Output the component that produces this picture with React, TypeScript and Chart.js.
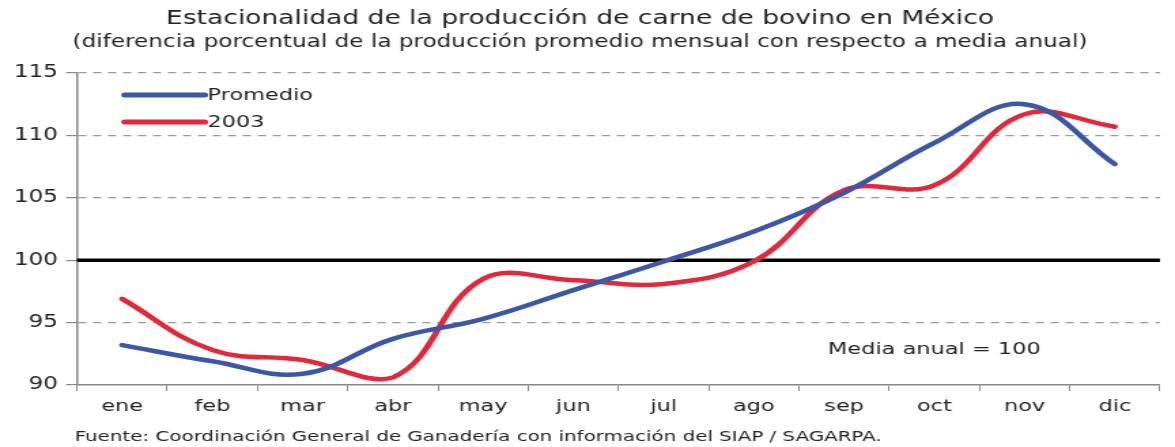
import React, { useEffect, useRef } from 'react';
import { Chart, registerables } from 'chart.js';

Chart.register(...registerables);

const months = ['ene', 'feb', 'mar', 'abr', 'may', 'jun', 'jul', 'ago', 'sep', 'oct', 'nov', 'dic'];
const promedio = [93.2, 91.9, 90.9, 93.7, 95.3, 97.6, 99.9, 102.3, 105.4, 109.4, 112.5, 107.7];
const serie2003 = [96.9, 92.8, 92.0, 90.6, 98.5, 98.4, 98.1, 99.9, 105.6, 106.0, 111.7, 110.7];
const seriesLabels = ['Promedio', '2003'];
const yTicks = [90, 95, 100, 105, 110, 115];
const titleText = 'Estacionalidad de la producción de carne de bovino en México';
const subtitleText = '(diferencia porcentual de la producción promedio mensual con respecto a media anual)';
const sourceText = 'Fuente: Coordinación General de Ganadería con información del SIAP / SAGARPA.';
const noteText = 'Media anual = 100';
const noteCategory = 'oct';
const noteValue = 92.8;
const baseValue = 100;

const PAGE_W = 1175;
const PAGE_H = 447;
const STRETCH = 1.36;
const W = Math.round(PAGE_W / STRETCH);
const FONT = '"DejaVu Sans", Verdana, sans-serif';
const TEXT = '#222';

const extrasPlugin = {
  id: 'extras',
  beforeDatasetsDraw(chart: any) {
    const { ctx, chartArea } = chart;
    const y = chart.scales.y.getPixelForValue(baseValue);
    ctx.save();
    ctx.strokeStyle = '#000';
    ctx.lineWidth = 3.5;
    ctx.beginPath();
    ctx.moveTo(chartArea.left, y);
    ctx.lineTo(chartArea.right, y);
    ctx.stroke();
    ctx.restore();
  },
  afterDatasetsDraw(chart: any) {
    const { ctx, chartArea } = chart;
    ctx.save();
    // legend inside plot
    chart.data.datasets.forEach((ds: any, i: number) => {
      const ly = chartArea.top + 22 + i * 27;
      const x0 = chartArea.left + 35;
      const x1 = chartArea.left + 94;
      ctx.strokeStyle = ds.borderColor;
      ctx.lineWidth = 5;
      ctx.lineCap = 'round';
      ctx.beginPath();
      ctx.moveTo(x0, ly);
      ctx.lineTo(x1, ly);
      ctx.stroke();
      ctx.fillStyle = TEXT;
      ctx.font = `16.5px ${FONT}`;
      ctx.textAlign = 'left';
      ctx.textBaseline = 'middle';
      ctx.fillText(ds.label, x1 + 2, ly + 1);
    });
    // note
    const nx = chart.scales.x.getPixelForValue(months.indexOf(noteCategory));
    const ny = chart.scales.y.getPixelForValue(noteValue);
    ctx.fillStyle = TEXT;
    ctx.font = `16.5px ${FONT}`;
    ctx.textAlign = 'center';
    ctx.textBaseline = 'middle';
    ctx.fillText(noteText, nx, ny);
    // source
    ctx.font = `14.6px ${FONT}`;
    ctx.textAlign = 'left';
    ctx.fillText(sourceText, 55, 437);
    ctx.restore();
  },
};

export default function App() {
  const ref = useRef<HTMLCanvasElement | null>(null);

  useEffect(() => {
    if (!ref.current) return;
    const chart = new Chart(ref.current, {
      type: 'line',
      data: {
        labels: months,
        datasets: [
          {
            label: seriesLabels[0],
            data: promedio,
            borderColor: '#3b57a6',
            backgroundColor: '#3b57a6',
            borderWidth: 4.5,
            tension: 0.4,
            pointRadius: 0,
            borderCapStyle: 'round',
          },
          {
            label: seriesLabels[1],
            data: serie2003,
            borderColor: '#e2283a',
            backgroundColor: '#e2283a',
            borderWidth: 4.5,
            tension: 0.4,
            pointRadius: 0,
            borderCapStyle: 'round',
          },
        ],
      },
      options: {
        responsive: false,
        animation: false,
        devicePixelRatio: 1,
        layout: { padding: { left: 0, right: W - 1160 / STRETCH, top: 0, bottom: 32 } },
        plugins: {
          legend: { display: false },
          tooltip: { enabled: false },
          title: {
            display: true,
            text: titleText,
            color: TEXT,
            font: { family: FONT, size: 19.5, weight: 'normal' },
            padding: { top: 7, bottom: 0 },
          },
          subtitle: {
            display: true,
            text: subtitleText,
            color: TEXT,
            font: { family: FONT, size: 17, weight: 'normal' },
            padding: { top: 2, bottom: 20.2 },
          },
        },
        scales: {
          x: {
            offset: true,
            grid: {
              offset: true,
              drawOnChartArea: false,
              drawTicks: true,
              tickLength: 6,
              tickColor: '#888',
            },
            border: { display: true, color: '#888', width: 1.5 },
            ticks: {
              color: TEXT,
              font: { family: FONT, size: 16.5 },
              padding: 6,
              maxRotation: 0,
              autoSkip: false,
            },
            afterFit(scale: any) {
              scale.height = 30;
            },
          },
          y: {
            min: 90,
            max: 115,
            afterBuildTicks(scale: any) {
              scale.ticks = yTicks.map((v) => ({ value: v }));
            },
            grid: {
              color: (c: any) => (c.tick && (c.tick.value === baseValue || c.tick.value === 90) ? 'rgba(0,0,0,0)' : '#9a9a9a'),
              lineWidth: 1.2,
              tickLength: 8,
              tickColor: '#888',
              tickBorderDash: [],
            },
            border: { display: true, color: '#888', width: 1.5, dash: [6, 5] },
            ticks: {
              color: TEXT,
              font: { family: FONT, size: 17 },
              padding: 6,
            },
            afterFit(scale: any) {
              scale.width = 77 / STRETCH;
            },
          },
        },
      },
      plugins: [extrasPlugin],
    } as any);
    return () => chart.destroy();
  }, []);

  return (
    <div style={{ position: 'fixed', left: 0, top: 0, width: PAGE_W, height: PAGE_H, background: '#fff' }}>
      <canvas
        ref={ref}
        width={W}
        height={PAGE_H}
        style={{ width: `${PAGE_W}px`, height: `${PAGE_H}px`, display: 'block' }}
      />
    </div>
  );
}
